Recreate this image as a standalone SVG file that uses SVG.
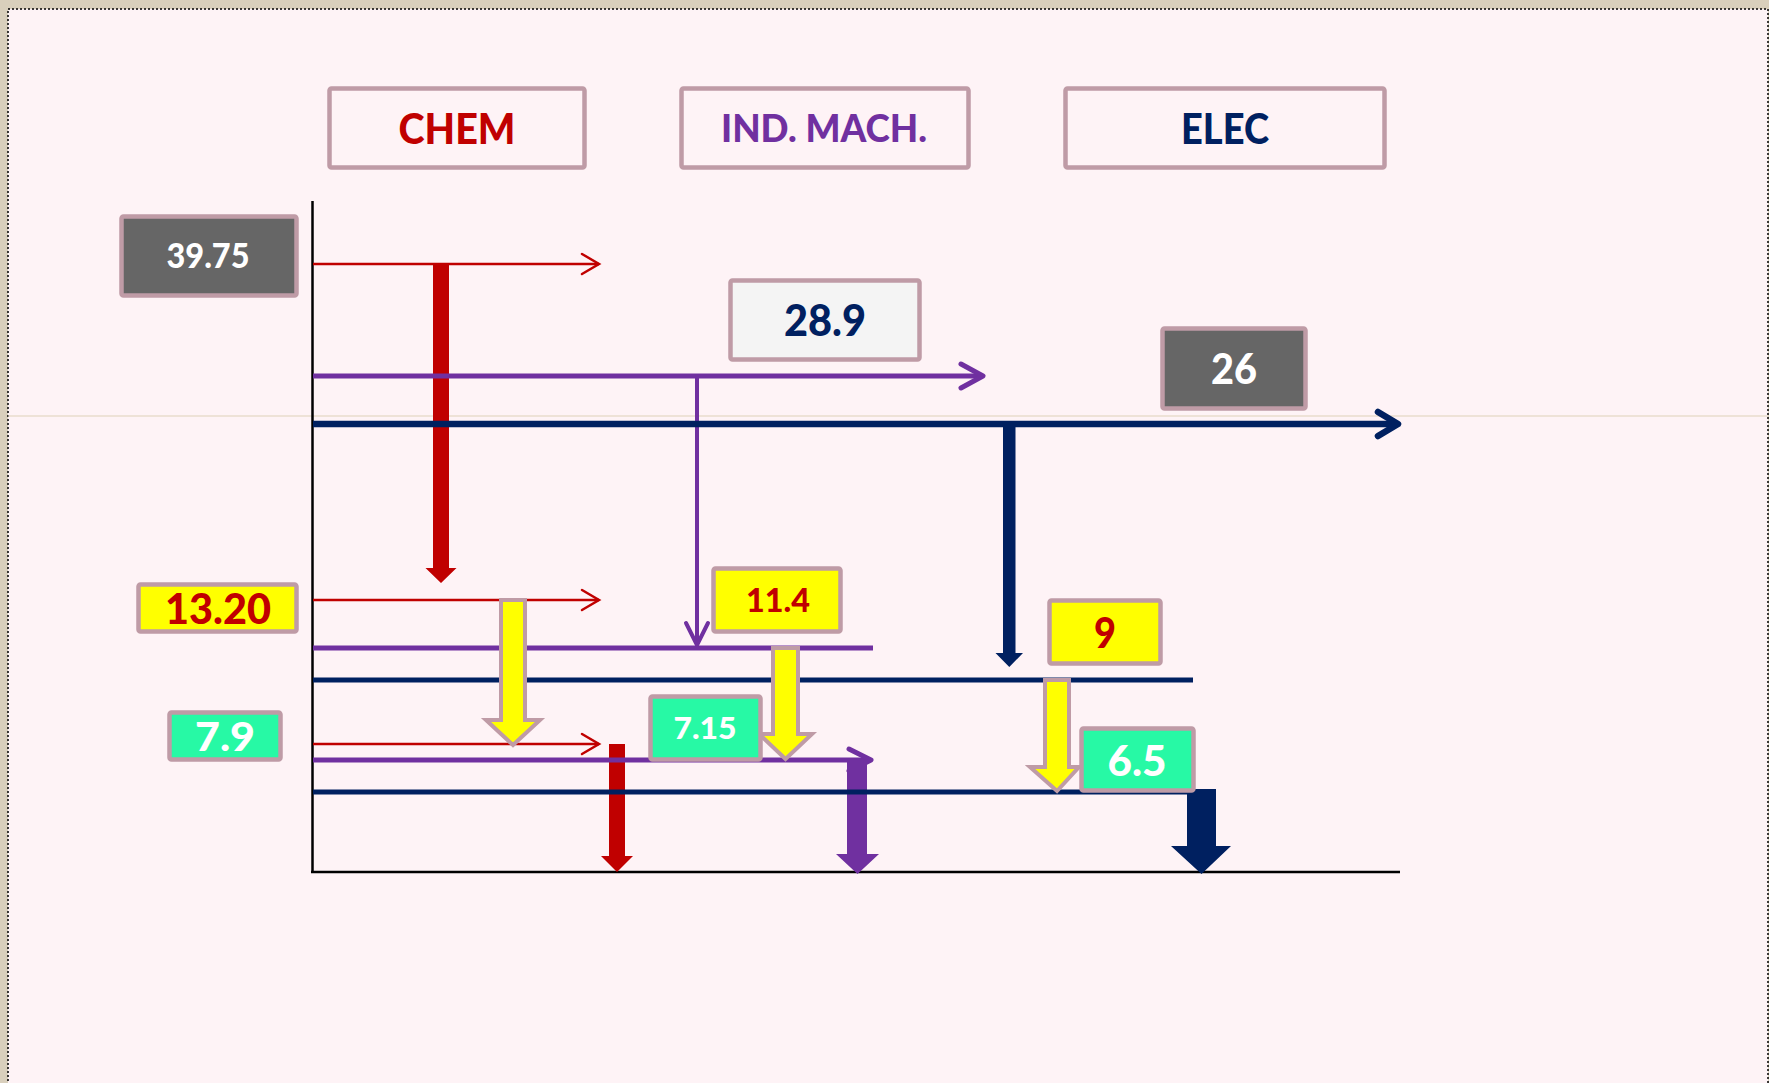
<svg xmlns="http://www.w3.org/2000/svg" width="1769" height="1083" viewBox="0 0 1769 1083">
<style>
.bx{stroke:#BF9BA6;stroke-width:4.5}
.t{font-family:Lato,"Liberation Sans",sans-serif;font-weight:900;text-anchor:middle}
.red{fill:#C00000}.pur{fill:#7030A0}.nav{fill:#002060}.wh{fill:#FFFFFF}
.yl{fill:#FFFF00;stroke:#BF9BA6;stroke-width:4;stroke-linejoin:miter}
</style>
<defs>
<marker id="chR" markerWidth="24" markerHeight="24" refX="19" refY="12" orient="auto" markerUnits="userSpaceOnUse">
<path d="M2,2 L19,12 L2,22" fill="none" stroke="#C00000" stroke-width="2.5" stroke-linecap="round"/>
</marker>
</defs>
<rect x="0" y="0" width="1769" height="1083" fill="#D9CFBC"/>
<rect x="8" y="9" width="1760" height="1080" fill="#FEF3F6" stroke="#000" stroke-width="1.5" stroke-dasharray="2,2"/>
<line x1="8" y1="416" x2="1768" y2="416" stroke="#DDD2B8" stroke-width="1.2"/>

<g id="axes" stroke="#000" stroke-width="2.5" fill="none">
<line x1="312.5" y1="201" x2="312.5" y2="872"/>
<line x1="311" y1="872" x2="1400" y2="872"/>
</g>

<g id="connectors">
<line x1="313" y1="264" x2="599" y2="264" stroke="#C00000" stroke-width="2.5" marker-end="url(#chR)"/>
<line x1="313" y1="600" x2="599" y2="600" stroke="#C00000" stroke-width="2.5" marker-end="url(#chR)"/>
<line x1="313" y1="744" x2="599" y2="744" stroke="#C00000" stroke-width="2.5" marker-end="url(#chR)"/>
<path d="M433,264 H449 V568 H456.5 L441,583 L425.5,568 H433 Z" fill="#C00000"/>
<path d="M609,744 H625 V856 H633 L617,872 L601,856 H609 Z" fill="#C00000"/>
<line x1="313" y1="376" x2="982" y2="376" stroke="#7030A0" stroke-width="5"/>
<path d="M961,364 L983,376 L961,388" fill="none" stroke="#7030A0" stroke-width="5" stroke-linecap="round" stroke-linejoin="round"/>
<line x1="697" y1="376" x2="697" y2="643" stroke="#7030A0" stroke-width="4"/>
<path d="M686,623 L697,645 L708,623" fill="none" stroke="#7030A0" stroke-width="4" stroke-linecap="round" stroke-linejoin="round"/>
<line x1="313" y1="648" x2="873" y2="648" stroke="#7030A0" stroke-width="5"/>
<line x1="313" y1="760" x2="870" y2="760" stroke="#7030A0" stroke-width="5"/>
<path d="M849,749 L871,760 L849,771" fill="none" stroke="#7030A0" stroke-width="5" stroke-linecap="round" stroke-linejoin="round"/>
<path d="M847,760 H867 V854 H879 L857.5,874 L836,854 H847 Z" fill="#7030A0"/>
<line x1="313" y1="424" x2="1396" y2="424" stroke="#002060" stroke-width="6.5"/>
<path d="M1378,412 L1398,424 L1378,436" fill="none" stroke="#002060" stroke-width="6.5" stroke-linecap="round" stroke-linejoin="round"/>
<path d="M1003,424 H1015.5 V653 H1023 L1009.3,667 L995.5,653 H1003 Z" fill="#002060"/>
<line x1="313" y1="680" x2="1193" y2="680" stroke="#002060" stroke-width="5"/>
<line x1="313" y1="792" x2="1190" y2="792" stroke="#002060" stroke-width="5"/>
<path d="M1187,789 H1216 V846 H1231 L1201.5,874 L1171,846 H1187 Z" fill="#002060"/>
</g>

<g id="yellow-arrows">
<path class="yl" d="M501,600 H525 V720 H540 L513,745 L486,720 H501 Z"/>
<path class="yl" d="M773,648 H798 V734 H812 L785.5,759 L759,734 H773 Z"/>
<path class="yl" d="M1045,680 H1069 V767 H1079 L1057,791 L1030,767 H1045 Z"/>
</g>

<g id="node-chem"><rect class="bx" x="329.5" y="88.5" width="255" height="79" rx="2" fill="none"/><text class="t red" x="457" y="144" font-size="42" textLength="117" lengthAdjust="spacingAndGlyphs">CHEM</text></g>
<g id="node-indmach"><rect class="bx" x="681.5" y="88.5" width="287" height="79" rx="2" fill="none"/><text class="t pur" x="824" y="142" font-size="38" textLength="206" lengthAdjust="spacingAndGlyphs">IND. MACH.</text></g>
<g id="node-elec"><rect class="bx" x="1065.5" y="88.5" width="319" height="79" rx="2" fill="none"/><text class="t nav" x="1225" y="144" font-size="42" textLength="88" lengthAdjust="spacingAndGlyphs">ELEC</text></g>

<g id="node-3975"><rect class="bx" x="121.5" y="216.5" width="175" height="79" rx="2" fill="#666666"/><text class="t wh" x="208" y="268" font-size="34" textLength="83" lengthAdjust="spacingAndGlyphs">39.75</text></g>
<g id="node-289"><rect class="bx" x="730.5" y="280.5" width="189" height="79" rx="2" fill="#F4F4F4"/><text class="t nav" x="825" y="336" font-size="43" textLength="82" lengthAdjust="spacingAndGlyphs">28.9</text></g>
<g id="node-26"><rect class="bx" x="1162.5" y="328.5" width="143" height="80" rx="2" fill="#666666"/><text class="t wh" x="1234" y="384" font-size="42" textLength="46" lengthAdjust="spacingAndGlyphs">26</text></g>

<g id="node-1320"><rect class="bx" x="138.5" y="584.5" width="158" height="47" rx="2" fill="#FFFF00"/><text class="t red" x="218" y="624" font-size="42" textLength="106" lengthAdjust="spacingAndGlyphs">13.20</text></g>
<g id="node-114"><rect class="bx" x="713.5" y="568.5" width="127" height="63" rx="2" fill="#FFFF00"/><text class="t red" x="778" y="612" font-size="32" textLength="64" lengthAdjust="spacingAndGlyphs">11.4</text></g>
<g id="node-9"><rect class="bx" x="1049.5" y="600.5" width="111" height="63" rx="2" fill="#FFFF00"/><text class="t red" x="1105" y="648" font-size="42" textLength="22" lengthAdjust="spacingAndGlyphs">9</text></g>

<g id="node-79"><rect class="bx" x="169.5" y="712.5" width="111" height="47" rx="2" fill="#27F9A5"/><text class="t wh" x="225" y="751" font-size="40.5" textLength="60" lengthAdjust="spacingAndGlyphs">7.9</text></g>
<g id="node-715"><rect class="bx" x="650.5" y="696.5" width="110" height="63" rx="2" fill="#27F9A5"/><text class="t wh" x="705" y="739" font-size="29.5" textLength="63" lengthAdjust="spacingAndGlyphs">7.15</text></g>
<g id="node-65"><rect class="bx" x="1081.5" y="728.5" width="112" height="62" rx="2" fill="#27F9A5"/><text class="t wh" x="1137" y="776" font-size="42" textLength="59" lengthAdjust="spacingAndGlyphs">6.5</text></g>
</svg>
